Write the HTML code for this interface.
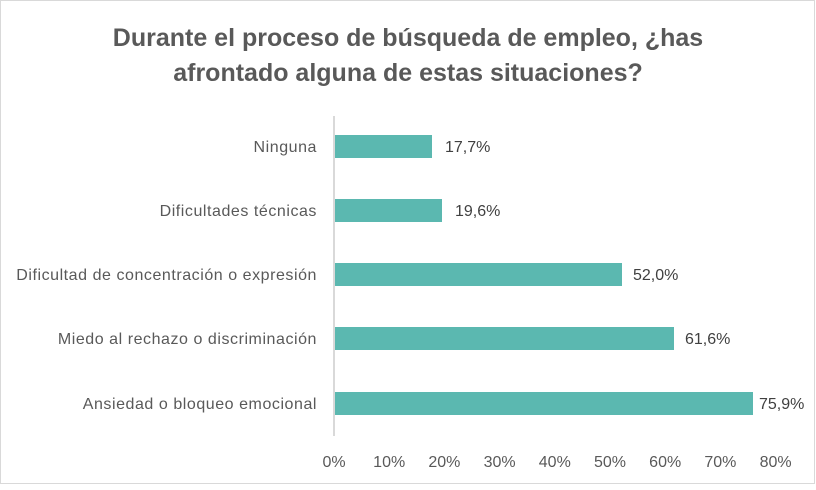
<!DOCTYPE html>
<html><head><meta charset="utf-8"><style>
body{margin:0;background:#fff}
</style></head><body>
<svg width="816" height="485" xmlns="http://www.w3.org/2000/svg" font-family="'Liberation Sans', sans-serif">
<rect x="0.5" y="0.5" width="814" height="483" fill="#fff" stroke="#d9d9d9"/>
<text x="408" y="46" text-anchor="middle" font-size="25" font-weight="bold" fill="#595959">Durante el proceso de búsqueda de empleo, ¿has</text>
<text x="408" y="81" text-anchor="middle" font-size="25" font-weight="bold" fill="#595959">afrontado alguna de estas situaciones?</text>
<g fill="#5bb8b0">
<rect x="335" y="135" width="97" height="23"/>
<rect x="335" y="199" width="107" height="23"/>
<rect x="335" y="263" width="287" height="23"/>
<rect x="335" y="327" width="339" height="23"/>
<rect x="335" y="392" width="418" height="23"/>
</g>
<line x1="334" y1="116" x2="334" y2="436" stroke="#d9d9d9" stroke-width="2"/>
<g font-size="16" fill="#595959" text-anchor="end" letter-spacing="0.55">
<text x="317" y="152">Ninguna</text>
<text x="317" y="216">Dificultades técnicas</text>
<text x="317" y="280">Dificultad de concentración o expresión</text>
<text x="317" y="344">Miedo al rechazo o discriminación</text>
<text x="317" y="409">Ansiedad o bloqueo emocional</text>
</g>
<g font-size="16" fill="#404040">
<text x="445" y="152">17,7%</text>
<text x="455" y="216">19,6%</text>
<text x="633" y="280">52,0%</text>
<text x="685" y="344">61,6%</text>
<text x="759" y="409">75,9%</text>
</g>
<g font-size="16" fill="#595959" text-anchor="middle">
<text x="334" y="467">0%</text>
<text x="389.2" y="467">10%</text>
<text x="444.4" y="467">20%</text>
<text x="499.6" y="467">30%</text>
<text x="554.8" y="467">40%</text>
<text x="610" y="467">50%</text>
<text x="665.2" y="467">60%</text>
<text x="720.4" y="467">70%</text>
<text x="775.6" y="467">80%</text>
</g>
</svg>
</body></html>
